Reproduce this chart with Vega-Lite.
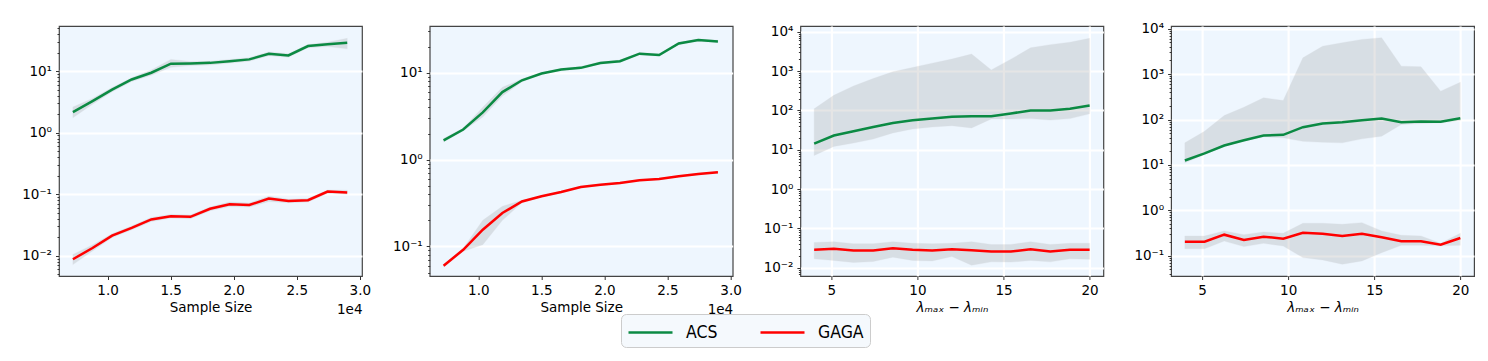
{
  "$schema": "https://vega.github.io/schema/vega-lite/v6.json",
  "padding": {"left": 21, "top": 20, "right": 10, "bottom": 0},
  "background": "white",
  "datasets": {
    "p1": [
      {"x":0.725,"s":"ACS","y":2.15,"lo":1.75,"hi":2.6},
      {"x":0.8804,"s":"ACS","y":3.25,"lo":2.9,"hi":3.6},
      {"x":1.0357,"s":"ACS","y":5.0,"lo":4.6,"hi":5.4},
      {"x":1.1911,"s":"ACS","y":7.3,"lo":6.8,"hi":7.8},
      {"x":1.3464,"s":"ACS","y":9.4,"lo":8.6,"hi":10.4},
      {"x":1.5018,"s":"ACS","y":13.2,"lo":11.5,"hi":15.5},
      {"x":1.6571,"s":"ACS","y":13.3,"lo":12.3,"hi":14.3},
      {"x":1.8125,"s":"ACS","y":13.6,"lo":12.6,"hi":14.5},
      {"x":1.9679,"s":"ACS","y":14.5,"lo":13.5,"hi":15.5},
      {"x":2.1232,"s":"ACS","y":15.5,"lo":14.5,"hi":16.5},
      {"x":2.2786,"s":"ACS","y":19.1,"lo":17.8,"hi":20.5},
      {"x":2.4339,"s":"ACS","y":18.0,"lo":16.8,"hi":19.2},
      {"x":2.5893,"s":"ACS","y":25.5,"lo":24,"hi":27},
      {"x":2.7446,"s":"ACS","y":27.2,"lo":25,"hi":29.5},
      {"x":2.9,"s":"ACS","y":28.9,"lo":23,"hi":34},
      {"x":0.725,"s":"GAGA","y":0.0088,"lo":0.0072,"hi":0.0105},
      {"x":0.8804,"s":"GAGA","y":0.0134,"lo":0.012,"hi":0.015},
      {"x":1.0357,"s":"GAGA","y":0.0213,"lo":0.0198,"hi":0.0228},
      {"x":1.1911,"s":"GAGA","y":0.0285,"lo":0.0265,"hi":0.0305},
      {"x":1.3464,"s":"GAGA","y":0.039,"lo":0.036,"hi":0.042},
      {"x":1.5018,"s":"GAGA","y":0.044,"lo":0.041,"hi":0.047},
      {"x":1.6571,"s":"GAGA","y":0.043,"lo":0.040,"hi":0.046},
      {"x":1.8125,"s":"GAGA","y":0.058,"lo":0.054,"hi":0.062},
      {"x":1.9679,"s":"GAGA","y":0.0686,"lo":0.063,"hi":0.075},
      {"x":2.1232,"s":"GAGA","y":0.0668,"lo":0.062,"hi":0.072},
      {"x":2.2786,"s":"GAGA","y":0.085,"lo":0.076,"hi":0.093},
      {"x":2.4339,"s":"GAGA","y":0.078,"lo":0.073,"hi":0.083},
      {"x":2.5893,"s":"GAGA","y":0.080,"lo":0.075,"hi":0.085},
      {"x":2.7446,"s":"GAGA","y":0.1107,"lo":0.104,"hi":0.117},
      {"x":2.9,"s":"GAGA","y":0.107,"lo":0.100,"hi":0.116}
    ],
    "p2": [
      {"x":0.725,"s":"ACS","y":1.67,"lo":1.6,"hi":1.75},
      {"x":0.8804,"s":"ACS","y":2.22,"lo":2.15,"hi":2.3},
      {"x":1.0357,"s":"ACS","y":3.5,"lo":3.1,"hi":4.0},
      {"x":1.1911,"s":"ACS","y":6.0,"lo":5.4,"hi":6.8},
      {"x":1.3464,"s":"ACS","y":8.2,"lo":7.9,"hi":8.5},
      {"x":1.5018,"s":"ACS","y":9.8,"lo":9.6,"hi":10.1},
      {"x":1.6571,"s":"ACS","y":10.9,"lo":10.6,"hi":11.2},
      {"x":1.8125,"s":"ACS","y":11.4,"lo":11.1,"hi":11.8},
      {"x":1.9679,"s":"ACS","y":13.0,"lo":12.6,"hi":13.4},
      {"x":2.1232,"s":"ACS","y":13.6,"lo":13.2,"hi":14.0},
      {"x":2.2786,"s":"ACS","y":16.6,"lo":16.1,"hi":17.1},
      {"x":2.4339,"s":"ACS","y":16.0,"lo":15.6,"hi":16.5},
      {"x":2.5893,"s":"ACS","y":21.8,"lo":21.2,"hi":22.5},
      {"x":2.7446,"s":"ACS","y":23.8,"lo":23.1,"hi":24.5},
      {"x":2.9,"s":"ACS","y":23.0,"lo":22.4,"hi":23.7},
      {"x":0.725,"s":"GAGA","y":0.060,"lo":0.058,"hi":0.062},
      {"x":0.8804,"s":"GAGA","y":0.0916,"lo":0.088,"hi":0.095},
      {"x":1.0357,"s":"GAGA","y":0.156,"lo":0.105,"hi":0.20},
      {"x":1.1911,"s":"GAGA","y":0.243,"lo":0.20,"hi":0.29},
      {"x":1.3464,"s":"GAGA","y":0.330,"lo":0.32,"hi":0.34},
      {"x":1.5018,"s":"GAGA","y":0.378,"lo":0.37,"hi":0.386},
      {"x":1.6571,"s":"GAGA","y":0.424,"lo":0.415,"hi":0.433},
      {"x":1.8125,"s":"GAGA","y":0.484,"lo":0.474,"hi":0.494},
      {"x":1.9679,"s":"GAGA","y":0.515,"lo":0.505,"hi":0.525},
      {"x":2.1232,"s":"GAGA","y":0.538,"lo":0.527,"hi":0.549},
      {"x":2.2786,"s":"GAGA","y":0.578,"lo":0.566,"hi":0.59},
      {"x":2.4339,"s":"GAGA","y":0.598,"lo":0.586,"hi":0.61},
      {"x":2.5893,"s":"GAGA","y":0.642,"lo":0.629,"hi":0.655},
      {"x":2.7446,"s":"GAGA","y":0.683,"lo":0.669,"hi":0.697},
      {"x":2.9,"s":"GAGA","y":0.714,"lo":0.70,"hi":0.728}
    ],
    "p3": [
      {"x":4,"s":"ACS","y":14.3,"lo":7.2,"hi":110},
      {"x":5.143,"s":"ACS","y":23,"lo":12.2,"hi":242},
      {"x":6.286,"s":"ACS","y":29.5,"lo":14.9,"hi":417},
      {"x":7.429,"s":"ACS","y":38,"lo":18.8,"hi":645},
      {"x":8.571,"s":"ACS","y":48,"lo":26.9,"hi":960},
      {"x":9.714,"s":"ACS","y":56.6,"lo":33.9,"hi":1230},
      {"x":10.857,"s":"ACS","y":62,"lo":38,"hi":1590},
      {"x":12,"s":"ACS","y":69,"lo":41,"hi":2020},
      {"x":13.143,"s":"ACS","y":71.6,"lo":36,"hi":2700},
      {"x":14.286,"s":"ACS","y":71.6,"lo":61,"hi":1070},
      {"x":15.429,"s":"ACS","y":83.8,"lo":61,"hi":2000},
      {"x":16.571,"s":"ACS","y":100,"lo":62,"hi":3900},
      {"x":17.714,"s":"ACS","y":100,"lo":57,"hi":4700},
      {"x":18.857,"s":"ACS","y":110,"lo":62,"hi":5400},
      {"x":20,"s":"ACS","y":134,"lo":82,"hi":6800},
      {"x":4,"s":"GAGA","y":0.029,"lo":0.017,"hi":0.044},
      {"x":5.143,"s":"GAGA","y":0.0304,"lo":0.0154,"hi":0.046},
      {"x":6.286,"s":"GAGA","y":0.0276,"lo":0.0137,"hi":0.041},
      {"x":7.429,"s":"GAGA","y":0.0276,"lo":0.0145,"hi":0.041},
      {"x":8.571,"s":"GAGA","y":0.0316,"lo":0.0187,"hi":0.046},
      {"x":9.714,"s":"GAGA","y":0.0287,"lo":0.0154,"hi":0.042},
      {"x":10.857,"s":"GAGA","y":0.0276,"lo":0.015,"hi":0.041},
      {"x":12,"s":"GAGA","y":0.0298,"lo":0.0194,"hi":0.042},
      {"x":13.143,"s":"GAGA","y":0.028,"lo":0.0117,"hi":0.046},
      {"x":14.286,"s":"GAGA","y":0.026,"lo":0.0142,"hi":0.039},
      {"x":15.429,"s":"GAGA","y":0.026,"lo":0.014,"hi":0.039},
      {"x":16.571,"s":"GAGA","y":0.0298,"lo":0.0154,"hi":0.046},
      {"x":17.714,"s":"GAGA","y":0.026,"lo":0.0142,"hi":0.039},
      {"x":18.857,"s":"GAGA","y":0.0287,"lo":0.017,"hi":0.042},
      {"x":20,"s":"GAGA","y":0.029,"lo":0.0166,"hi":0.042}
    ],
    "p4": [
      {"x":4,"s":"ACS","y":12.5,"lo":11.1,"hi":30.6},
      {"x":5.143,"s":"ACS","y":17.9,"lo":17,"hi":55},
      {"x":6.286,"s":"ACS","y":26.8,"lo":25.9,"hi":122},
      {"x":7.429,"s":"ACS","y":35,"lo":33,"hi":186},
      {"x":8.571,"s":"ACS","y":44.5,"lo":41.5,"hi":300},
      {"x":9.714,"s":"ACS","y":46,"lo":39.6,"hi":262},
      {"x":10.857,"s":"ACS","y":67.7,"lo":33,"hi":2280},
      {"x":12,"s":"ACS","y":81.6,"lo":31.6,"hi":4100},
      {"x":13.143,"s":"ACS","y":87,"lo":30.6,"hi":4900},
      {"x":14.286,"s":"ACS","y":96.7,"lo":37.5,"hi":5800},
      {"x":15.429,"s":"ACS","y":105,"lo":43,"hi":6300},
      {"x":16.571,"s":"ACS","y":87,"lo":77.6,"hi":1490},
      {"x":17.714,"s":"ACS","y":90,"lo":81.6,"hi":1450},
      {"x":18.857,"s":"ACS","y":89,"lo":84.5,"hi":420},
      {"x":20,"s":"ACS","y":107,"lo":95,"hi":660},
      {"x":4,"s":"GAGA","y":0.204,"lo":0.143,"hi":0.272},
      {"x":5.143,"s":"GAGA","y":0.204,"lo":0.143,"hi":0.272},
      {"x":6.286,"s":"GAGA","y":0.291,"lo":0.211,"hi":0.351},
      {"x":7.429,"s":"GAGA","y":0.222,"lo":0.159,"hi":0.291},
      {"x":8.571,"s":"GAGA","y":0.263,"lo":0.188,"hi":0.334},
      {"x":9.714,"s":"GAGA","y":0.238,"lo":0.164,"hi":0.312},
      {"x":10.857,"s":"GAGA","y":0.322,"lo":0.091,"hi":0.518},
      {"x":12,"s":"GAGA","y":0.306,"lo":0.081,"hi":0.518},
      {"x":13.143,"s":"GAGA","y":0.272,"lo":0.065,"hi":0.492},
      {"x":14.286,"s":"GAGA","y":0.306,"lo":0.077,"hi":0.535},
      {"x":15.429,"s":"GAGA","y":0.255,"lo":0.117,"hi":0.351},
      {"x":16.571,"s":"GAGA","y":0.208,"lo":0.17,"hi":0.282},
      {"x":17.714,"s":"GAGA","y":0.208,"lo":0.17,"hi":0.272},
      {"x":18.857,"s":"GAGA","y":0.175,"lo":0.165,"hi":0.188},
      {"x":20,"s":"GAGA","y":0.246,"lo":0.17,"hi":0.312}
    ]
  },
  "hconcat": [
    {
      "width": 303, "height": 250,
      "data": {"name": "p1"},
      "layer": [
        {
          "mark": {"type": "area", "color": "#808080", "opacity": 0.2, "stroke": "#808080", "strokeOpacity": 0.5, "strokeWidth": 0.6},
          "encoding": {
            "x": {"field": "x", "type": "quantitative", "scale": {"domain": [0.6148, 3.0172], "nice": false, "zero": false},
                  "axis": {"orient": "bottom", "values": [3.0172], "labelExpr": "'1e4'", "labelAlign": "right", "ticks": false, "grid": false, "title": null, "labelPadding": 26}},
            "y": {"field": "lo", "type": "quantitative", "scale": {"type": "log", "domain": [0.0047, 54], "nice": false},
                  "axis": {"title": null, "labelOverlap": false,
                    "values": [0.005,0.006,0.007,0.008,0.009,0.01,0.02,0.03,0.04,0.05,0.06,0.07,0.08,0.09,0.1,0.2,0.3,0.4,0.5,0.6,0.7,0.8,0.9,1,2,3,4,5,6,7,8,9,10,20,30,40,50],
                    "labelExpr": "datum.value==10000?'10⁴':datum.value==1000?'10³':datum.value==100?'10²':datum.value==10?'10¹':datum.value==1?'10⁰':datum.value==0.1?'10⁻¹':datum.value==0.01?'10⁻²':''",
                    "tickSize": {"condition": {"test": "abs(log(datum.value)/LN10 - round(log(datum.value)/LN10)) < 0.001", "value": 3.5}, "value": 2},
                    "gridOpacity": {"condition": {"test": "abs(log(datum.value)/LN10 - round(log(datum.value)/LN10)) < 0.001", "value": 1}, "value": 0}}},
            "y2": {"field": "hi"},
            "detail": {"field": "s"}
          }
        },
        {
          "mark": {"type": "line", "strokeWidth": 2.5},
          "encoding": {
            "x": {"field": "x", "type": "quantitative", "axis": {"orient": "bottom", "values": [1.0, 1.5, 2.0, 2.5, 3.0], "format": ".1f", "title": "Sample Size"}},
            "y": {"field": "y", "type": "quantitative"},
            "color": {"field": "s", "type": "nominal", "scale": {"domain": ["ACS", "GAGA"], "range": ["#0b8a43", "#ff0000"]},
                      "legend": {"orient": "none", "legendX": 562, "legendY": 288, "direction": "horizontal", "title": null}}
          }
        }
      ],
      "resolve": {"axis": {"x": "independent"}}
    },
    {
      "width": 303, "height": 250,
      "data": {"name": "p2"},
      "layer": [
        {
          "mark": {"type": "area", "color": "#808080", "opacity": 0.2, "stroke": "#808080", "strokeOpacity": 0.5, "strokeWidth": 0.6},
          "encoding": {
            "x": {"field": "x", "type": "quantitative", "scale": {"domain": [0.6148, 3.0172], "nice": false, "zero": false},
                  "axis": {"orient": "bottom", "values": [3.0172], "labelExpr": "'1e4'", "labelAlign": "right", "ticks": false, "grid": false, "title": null, "labelPadding": 26}},
            "y": {"field": "lo", "type": "quantitative", "scale": {"type": "log", "domain": [0.0457, 34.6], "nice": false},
                  "axis": {"title": null, "labelOverlap": false,
                    "values": [0.05,0.06,0.07,0.08,0.09,0.1,0.2,0.3,0.4,0.5,0.6,0.7,0.8,0.9,1,2,3,4,5,6,7,8,9,10,20,30],
                    "labelExpr": "datum.value==10000?'10⁴':datum.value==1000?'10³':datum.value==100?'10²':datum.value==10?'10¹':datum.value==1?'10⁰':datum.value==0.1?'10⁻¹':datum.value==0.01?'10⁻²':''",
                    "tickSize": {"condition": {"test": "abs(log(datum.value)/LN10 - round(log(datum.value)/LN10)) < 0.001", "value": 3.5}, "value": 2},
                    "gridOpacity": {"condition": {"test": "abs(log(datum.value)/LN10 - round(log(datum.value)/LN10)) < 0.001", "value": 1}, "value": 0}}},
            "y2": {"field": "hi"},
            "detail": {"field": "s"}
          }
        },
        {
          "mark": {"type": "line", "strokeWidth": 2.5},
          "encoding": {
            "x": {"field": "x", "type": "quantitative", "axis": {"orient": "bottom", "values": [1.0, 1.5, 2.0, 2.5, 3.0], "format": ".1f", "title": "Sample Size"}},
            "y": {"field": "y", "type": "quantitative"},
            "color": {"field": "s", "type": "nominal"}
          }
        }
      ],
      "resolve": {"axis": {"x": "independent"}}
    },
    {
      "width": 303, "height": 250,
      "data": {"name": "p3"},
      "layer": [
        {
          "mark": {"type": "area", "color": "#808080", "opacity": 0.2, "stroke": "#808080", "strokeOpacity": 0.5, "strokeWidth": 0.6},
          "encoding": {
            "x": {"field": "x", "type": "quantitative", "scale": {"domain": [3.2, 20.8], "nice": false, "zero": false},
                  "axis": {"values": [5, 10, 15, 20], "title": "λₘₐₓ − λₘᵢₙ", "titleFontStyle": "italic"}},
            "y": {"field": "lo", "type": "quantitative", "scale": {"type": "log", "domain": [0.0062, 14000], "nice": false},
                  "axis": {"title": null, "labelOverlap": false,
                    "values": [0.007,0.008,0.009,0.01,0.02,0.03,0.04,0.05,0.06,0.07,0.08,0.09,0.1,0.2,0.3,0.4,0.5,0.6,0.7,0.8,0.9,1,2,3,4,5,6,7,8,9,10,20,30,40,50,60,70,80,90,100,200,300,400,500,600,700,800,900,1000,2000,3000,4000,5000,6000,7000,8000,9000,10000],
                    "labelExpr": "datum.value==10000?'10⁴':datum.value==1000?'10³':datum.value==100?'10²':datum.value==10?'10¹':datum.value==1?'10⁰':datum.value==0.1?'10⁻¹':datum.value==0.01?'10⁻²':''",
                    "tickSize": {"condition": {"test": "abs(log(datum.value)/LN10 - round(log(datum.value)/LN10)) < 0.001", "value": 3.5}, "value": 2},
                    "gridOpacity": {"condition": {"test": "abs(log(datum.value)/LN10 - round(log(datum.value)/LN10)) < 0.001", "value": 1}, "value": 0}}},
            "y2": {"field": "hi"},
            "detail": {"field": "s"}
          }
        },
        {
          "mark": {"type": "line", "strokeWidth": 2.5},
          "encoding": {
            "x": {"field": "x", "type": "quantitative"},
            "y": {"field": "y", "type": "quantitative"},
            "color": {"field": "s", "type": "nominal"}
          }
        }
      ]
    },
    {
      "width": 303, "height": 250,
      "data": {"name": "p4"},
      "layer": [
        {
          "mark": {"type": "area", "color": "#808080", "opacity": 0.2, "stroke": "#808080", "strokeOpacity": 0.5, "strokeWidth": 0.6},
          "encoding": {
            "x": {"field": "x", "type": "quantitative", "scale": {"domain": [3.2, 20.8], "nice": false, "zero": false},
                  "axis": {"values": [5, 10, 15, 20], "title": "λₘₐₓ − λₘᵢₙ", "titleFontStyle": "italic"}},
            "y": {"field": "lo", "type": "quantitative", "scale": {"type": "log", "domain": [0.0358, 11460], "nice": false},
                  "axis": {"title": null, "labelOverlap": false,
                    "values": [0.04,0.05,0.06,0.07,0.08,0.09,0.1,0.2,0.3,0.4,0.5,0.6,0.7,0.8,0.9,1,2,3,4,5,6,7,8,9,10,20,30,40,50,60,70,80,90,100,200,300,400,500,600,700,800,900,1000,2000,3000,4000,5000,6000,7000,8000,9000,10000],
                    "labelExpr": "datum.value==10000?'10⁴':datum.value==1000?'10³':datum.value==100?'10²':datum.value==10?'10¹':datum.value==1?'10⁰':datum.value==0.1?'10⁻¹':datum.value==0.01?'10⁻²':''",
                    "tickSize": {"condition": {"test": "abs(log(datum.value)/LN10 - round(log(datum.value)/LN10)) < 0.001", "value": 3.5}, "value": 2},
                    "gridOpacity": {"condition": {"test": "abs(log(datum.value)/LN10 - round(log(datum.value)/LN10)) < 0.001", "value": 1}, "value": 0}}},
            "y2": {"field": "hi"},
            "detail": {"field": "s"}
          }
        },
        {
          "mark": {"type": "line", "strokeWidth": 2.5},
          "encoding": {
            "x": {"field": "x", "type": "quantitative"},
            "y": {"field": "y", "type": "quantitative"},
            "color": {"field": "s", "type": "nominal"}
          }
        }
      ]
    }
  ],
  "spacing": 67.7,
  "bounds": "flush",
  "config": {
    "view": {"fill": "#eef6fe", "stroke": "#444444", "strokeWidth": 1.2},
    "axis": {"labelFont": "DejaVu Sans", "labelFontSize": 13.5, "labelColor": "#000000", "titleFont": "DejaVu Sans", "titleFontSize": 13.5, "titleFontWeight": "normal", "titleColor": "#000000", "tickColor": "#333333", "tickSize": 3.5, "domain": false, "gridColor": "#ffffff", "gridWidth": 2.2, "gridOpacity": 1, "labelPadding": 3, "titlePadding": 3},
    "axisX": {"labelPadding": 4},
    "axisY": {"labelPadding": 4},
    "legend": {"fillColor": "#f5f9fd", "strokeColor": "#cccccc", "cornerRadius": 5, "padding": 6, "symbolType": "M-1,0H3", "symbolSize": 484, "symbolStrokeWidth": 2.5, "labelFont": "DejaVu Sans Condensed, DejaVu Sans Mono, sans-serif", "labelFontSize": 17.5, "labelOffset": 34, "columnPadding": 37, "labelColor": "#000000"}
  }
}
